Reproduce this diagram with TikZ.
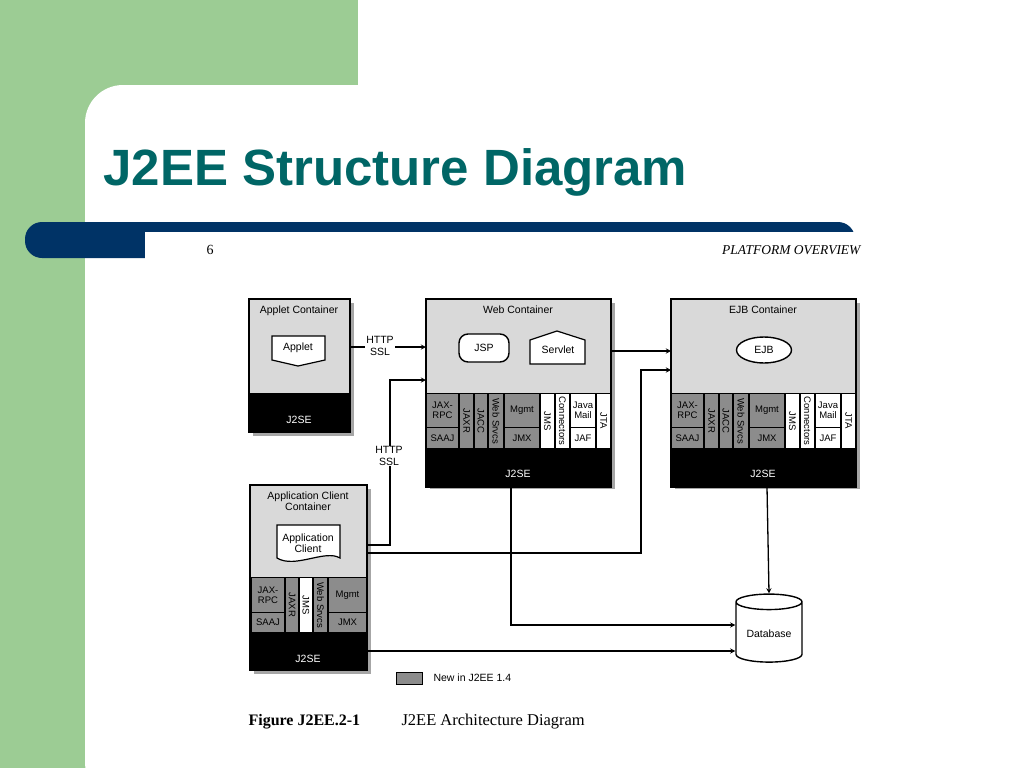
\documentclass[tikz,border=0pt]{standalone}
\usepackage{fontspec}
\setmainfont{Liberation Serif}
\setsansfont{Liberation Sans}
\usetikzlibrary{shapes.geometric}
\definecolor{slidegreen}{HTML}{9CCC94}
\definecolor{barblue}{HTML}{003366}
\definecolor{titleteal}{HTML}{006666}
\definecolor{boxgray}{HTML}{D9D9D9}
\definecolor{apigray}{HTML}{8C8C8C}
\begin{document}
\begin{tikzpicture}[x=1pt, y=-1pt, >=stealth, font=\sffamily\fontsize{10.5}{11.5}\selectfont]
  \tikzset{
    cont/.style = {draw, line width=1.4pt, fill=boxgray},
    shade/.style = {fill=gray!70},
    base/.style = {fill=black},
    cell/.style = {inner sep=0pt, align=center, font=\sffamily\fontsize{9.5}{10}\selectfont},
    link/.style = {->, line width=1.3pt},
    proto/.style = {fill=white, inner sep=1pt, align=center},
  }
  \useasboundingbox (0,0) rectangle (1024,768);
  % slide background
  \fill[slidegreen] (0,0) rectangle (1024,768);
  \fill[white] (358,0) rectangle (1024,85);
  \fill[white, rounded corners=38pt] (85,85) rectangle (1060,800);
  \fill[barblue, rounded corners=17pt] (25,222) rectangle (855,258);
  \fill[white] (145,232) rectangle (860,262);
  \node[anchor=west, text=titleteal, font=\sffamily\bfseries\fontsize{51}{55}\selectfont] (title) at (100,172) {J2EE Structure Diagram};
  \node[font=\rmfamily\fontsize{14}{14}\selectfont] (page) at (210,250) {6};
  \node[anchor=east, font=\rmfamily\itshape\fontsize{13.5}{14}\selectfont] (header) at (864,250) {PLATFORM OVERVIEW};

  % applet container
  \fill[shade] (253,303) rectangle (354,436);
  \draw[cont] (249,299) rectangle (350,432);
  \fill[base] (249,393) rectangle (350,432);
  \node (appletC) at (299,311) {Applet Container};
  \node[text=white] (appletSE) at (299,420) {J2SE};
  \draw[fill=white, line width=1.2pt] (272,336) -- (325,336) -- (325,360) -- (298,366) -- (272,360) -- cycle;
  \node (applet) at (298,348) {Applet};

  % web and ejb containers
  \foreach \dx/\pre/\ttl in {0/w/Web Container, 245/e/EJB Container} {
    \begin{scope}[xshift=\dx pt]
      \fill[shade] (430,303) rectangle (615,489);
      \draw[cont] (426,299) rectangle (611,487);
      \fill[base] (426,448) rectangle (611,487);
      \fill[black] (426,393) rectangle (611,448);
      \node (\pre ttl) at (518,310) {\ttl};
      \node[text=white] (\pre se) at (518,474) {J2SE};
      \foreach \n/\xa/\ya/\xb/\yb/\c/\r/\t in {
          rpc/427/394/458/427/apigray/0/{JAX-\\RPC},
          saaj/427/428/458/448/apigray/0/SAAJ,
          jaxr/460/394/473/448/apigray/-90/JAXR,
          jacc/475/394/487/448/apigray/-90/JACC,
          ws/489/394/503/448/apigray/-90/Web Srvcs,
          mgmt/505/394/539/427/apigray/0/Mgmt,
          jmx/505/428/539/448/apigray/0/JMX,
          jms/541/394/554/448/white/-90/JMS,
          conn/556/394/569/448/white/-90/Connectors,
          mail/571/394/595/427/white/0/{Java\\Mail},
          jaf/571/428/595/448/white/0/JAF,
          jta/597/394/610/448/white/-90/JTA} {
        \fill[\c] (\xa,\ya) rectangle (\xb,\yb);
        \node[cell, rotate=\r] (\pre\n) at ({(\xa+\xb)/2},{(\ya+\yb)/2}) {\t};
      }
    \end{scope}
  }
  \node[draw, rounded corners=9pt, line width=1.4pt, fill=white, minimum width=50pt, minimum height=28pt] (jsp) at (484,348) {JSP};
  \draw[fill=white, line width=1.2pt] (530,340) -- (557,331) -- (585,340) -- (585,364) -- (530,364) -- cycle;
  \node (servlet) at (558,350) {Servlet};
  \node[draw, ellipse, line width=1.4pt, fill=white, minimum width=55pt, minimum height=26pt] (ejb) at (764,350) {EJB};

  % application client container
  \fill[shade] (254,489) rectangle (371,674);
  \draw[cont] (250,485) rectangle (367,670);
  \fill[black] (250,577) rectangle (367,632);
  \fill[base] (250,632) rectangle (367,670);
  \node[align=center] (acC) at (308,501) {Application Client\\Container};
  \node[text=white] (acSE) at (308,659) {J2SE};
  \draw[fill=white, line width=1.2pt] (277,525) -- (340,525) -- (340,558) .. controls (325,549) and (295,569) .. (277,558) -- cycle;
  \node[align=center] (appclient) at (308,543) {Application\\Client};
  \foreach \n/\xa/\ya/\xb/\yb/\c/\r/\t in {
      rpc/252/578/284/612/apigray/0/{JAX-\\RPC},
      saaj/252/613/284/632/apigray/0/SAAJ,
      jaxr/286/578/298/632/apigray/-90/JAXR,
      jms/300/578/312/632/white/-90/JMS,
      ws/314/578/327/632/apigray/-90/Web Srvcs,
      mgmt/329/578/366/612/apigray/0/Mgmt,
      jmx/329/613/366/632/apigray/0/JMX} {
    \fill[\c] (\xa,\ya) rectangle (\xb,\yb);
    \node[cell, rotate=\r] (a\n) at ({(\xa+\xb)/2},{(\ya+\yb)/2}) {\t};
  }

  % database
  \node[draw, cylinder, shape border rotate=90, aspect=0.3, line width=1.4pt, fill=white, minimum width=66pt, minimum height=68pt] (db) at (769,634) {Database};

  % connectors
  \coordinate (p1) at (390,545);
  \coordinate (p2) at (390,380);
  \coordinate (p3) at (641,553);
  \coordinate (p4) at (641,370);
  \coordinate (p5) at (511,625);
  \draw[link] (350,347) -- (426,347);
  \node[proto] (http1) at (380,346) {HTTP\\SSL};
  \draw[link] (367,545) -- (p1) -- (p2) -- (426,380);
  \node[proto] (http2) at (389,456) {HTTP\\SSL};
  \draw[link] (367,553) -- (p3) -- (p4) -- (671,370);
  \draw[link] (611,351) -- (671,351);
  \draw[link] (511,487) -- (p5) -- (db.west |- p5);
  \draw[link] (767,487) -- (db.north);
  \draw[link] (367,651) -- (db.west |- 0,651);

  % legend and caption
  \draw[fill=apigray] (396,672) rectangle (422,684);
  \node[anchor=west] (legend) at (430,678) {New in J2EE 1.4};
  \node[anchor=west, font=\rmfamily\bfseries\fontsize{16}{16}\selectfont] (fig) at (245,722) {Figure J2EE.2-1};
  \node[anchor=west, font=\rmfamily\fontsize{16.5}{16}\selectfont] (cap) at (398,722) {J2EE Architecture Diagram};
\end{tikzpicture}
\end{document}
